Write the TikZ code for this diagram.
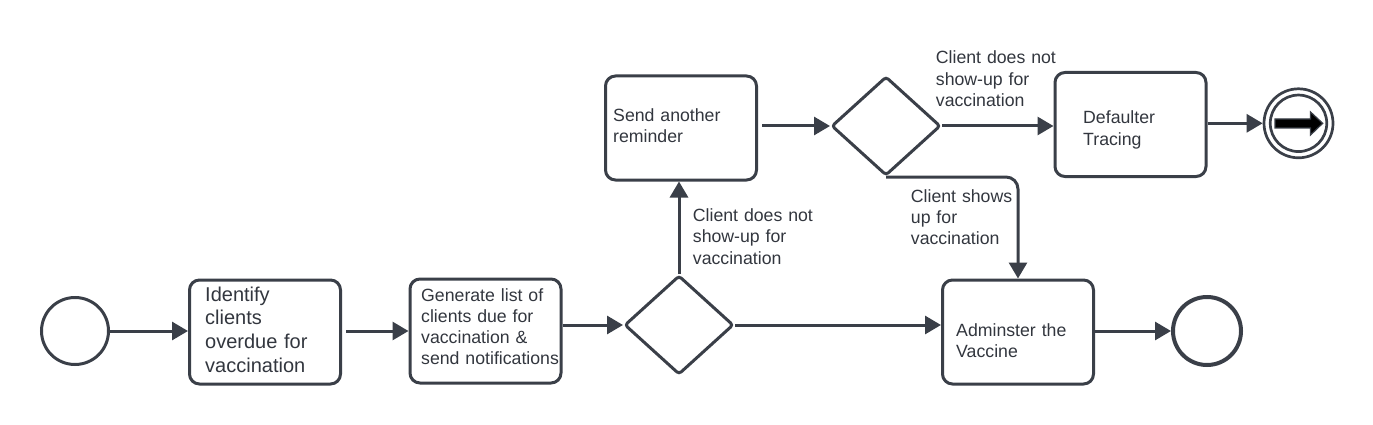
\documentclass[tikz,border=0pt]{standalone}
\usepackage{fontspec}
\setmainfont{Liberation Sans}
\usetikzlibrary{arrows.meta,shapes.geometric}
\definecolor{ink}{RGB}{58,63,72}
\definecolor{txt}{RGB}{50,54,62}
\begin{document}
\begin{tikzpicture}[x=1pt,y=-1pt,
  task/.style={draw=ink,line width=3pt,rounded corners=10pt,minimum width=151pt,minimum height=104pt,inner sep=0pt},
  gate/.style={draw=ink,line width=3pt,diamond,rounded corners=3pt,minimum width=109pt,minimum height=99pt,inner sep=0pt},
  event/.style={draw=ink,circle,inner sep=0pt},
  lbl/.style={anchor=base west,text width=160pt,align=left,inner sep=0pt,text=txt,font=\fontsize{17.7}{21.2}\selectfont},
  biglbl/.style={lbl,font=\fontsize{20}{23.9}\selectfont},
  flow/.style={draw=ink,line width=3pt,-{Triangle[length=16pt,width=18pt]}}]
\useasboundingbox (0,0) rectangle (1373,425);
% events
\node[event,line width=3pt,minimum size=67pt] (s) at (75,331) {};
\node[event,line width=4pt,minimum size=68pt] (e1) at (1207,331) {};
\node[event,line width=2.7pt,minimum size=69pt] (e2) at (1298.5,123.3) {};
\node[event,line width=2.7pt,minimum size=56.5pt] (e2i) at (1298.5,123.3) {};
\fill[black,draw=ink,line width=1.2pt] (1275,119) -- (1310.5,119) -- (1310.5,112) -- (1322.7,123.3) -- (1310.5,135) -- (1310.5,128) -- (1275,128) -- cycle;
% tasks
\node[task] (b1) at (265,332) {};
\node[task] (b2) at (485.5,331) {};
\node[task] (send) at (681,128) {};
\node[task] (def) at (1130.5,124.5) {};
\node[task] (ad) at (1018,332) {};
% gateways
\node[gate] (d1) at (679,325) {};
\node[gate] (d2) at (886,126) {};
% texts
\node[biglbl] (t1) at (205,301) {Identify\\clients\\overdue for\\vaccination};
\node[lbl] (t2) at (421,301) {Generate list of\\clients due for\\vaccination \&\\send notifications};
\node[lbl] (t3) at (613,121.7) {Send another\\reminder};
\node[lbl] (t4) at (1083,124) {Defaulter\\Tracing};
\node[lbl] (t5) at (956,336) {Adminster the\\Vaccine};
\node[lbl] (l1) at (692.7,221.7) {Client does not\\show-up for\\vaccination};
\node[lbl] (l2) at (935.7,64) {Client does not\\show-up for\\vaccination};
\node[lbl] (l3) at (910.7,202.3) {Client shows\\up for\\vaccination};
% flows
\draw[flow] (s.east) -- (s.east -| b1.west);
\draw[flow,shorten <=4pt] (b1.east |- b2.west) -- (b2.west);
\draw[flow] (b2.east |- d1.west) -- (d1.west);
\draw[flow] (d1.north) -- (d1.north |- send.south);
\draw[flow] (d1.east) -- (d1.east -| ad.west);
\draw[flow,shorten <=4pt] (send.east |- d2.west) -- (d2.west);
\draw[flow] (d2.east) -- (d2.east -| def.west);
\draw[flow,rounded corners=12pt] (d2.south) -- (d2.south -| ad.north) -- (ad.north);
\draw[flow] (def.east |- e2.west) -- (e2.west);
\draw[flow] (ad.east |- e1.west) -- (e1.west);
\end{tikzpicture}
\end{document}
